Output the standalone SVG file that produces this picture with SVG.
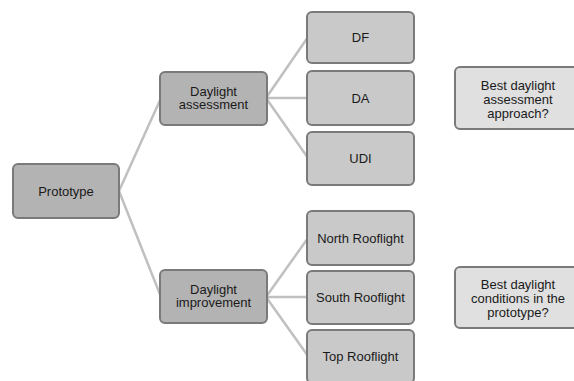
<svg xmlns="http://www.w3.org/2000/svg" width="574" height="381" viewBox="0 0 574 381">
<style>
.n rect{stroke:#7a7a7a;stroke-width:2}
.mid rect{fill:#b3b3b3}
.leaf rect{fill:#c9c9c9}
.q rect{fill:#e0e0e0}
text{font-family:"Liberation Sans",Arial,sans-serif;font-size:13px;fill:#1a1a1a;text-anchor:middle}
.c line{stroke:#c0c0c0;stroke-width:2.5}
</style>
<rect width="574" height="381" fill="#ffffff"/>
<g class="c" id="connectors">
<line x1="119" y1="191" x2="161" y2="98"/>
<line x1="119" y1="191" x2="161" y2="297"/>
<line x1="266" y1="98" x2="308" y2="37"/>
<line x1="266" y1="98" x2="308" y2="98"/>
<line x1="266" y1="98" x2="308" y2="158"/>
<line x1="266" y1="297" x2="308" y2="238"/>
<line x1="266" y1="297" x2="308" y2="297"/>
<line x1="266" y1="297" x2="308" y2="356"/>
</g>
<g id="prototype" class="n mid"><rect x="13" y="164" width="106" height="54" rx="5"/><text x="66" y="195.5">Prototype</text></g>
<g id="daylight-assessment" class="n mid"><rect x="160" y="72" width="107" height="53" rx="5"/><text x="213.5" y="95.5">Daylight</text><text x="213.5" y="109">assessment</text></g>
<g id="daylight-improvement" class="n mid"><rect x="160" y="270" width="107" height="53" rx="5"/><text x="213.5" y="293.5">Daylight</text><text x="213.5" y="307">improvement</text></g>
<g id="df" class="n leaf"><rect x="307" y="12" width="107" height="51" rx="5"/><text x="360.5" y="42">DF</text></g>
<g id="da" class="n leaf"><rect x="307" y="71" width="107" height="54" rx="5"/><text x="360.5" y="102.5">DA</text></g>
<g id="udi" class="n leaf"><rect x="307" y="132" width="107" height="53" rx="5"/><text x="360.5" y="163">UDI</text></g>
<g id="north" class="n leaf"><rect x="307" y="211" width="107" height="54" rx="5"/><text x="360.5" y="242.5">North Rooflight</text></g>
<g id="south" class="n leaf"><rect x="307" y="271" width="107" height="53" rx="5"/><text x="360.5" y="302">South Rooflight</text></g>
<g id="top" class="n leaf"><rect x="307" y="330" width="107" height="53" rx="5"/><text x="360.5" y="361">Top Rooflight</text></g>
<g id="q1" class="n q"><rect x="455" y="67" width="127" height="62" rx="5"/><text x="518" y="89.5">Best daylight</text><text x="518" y="103.5">assessment</text><text x="518" y="117.5">approach?</text></g>
<g id="q2" class="n q"><rect x="455" y="267" width="127" height="61" rx="5"/><text x="518" y="288.5">Best daylight</text><text x="518" y="302.5">conditions in the</text><text x="518" y="316.5">prototype?</text></g>
</svg>
